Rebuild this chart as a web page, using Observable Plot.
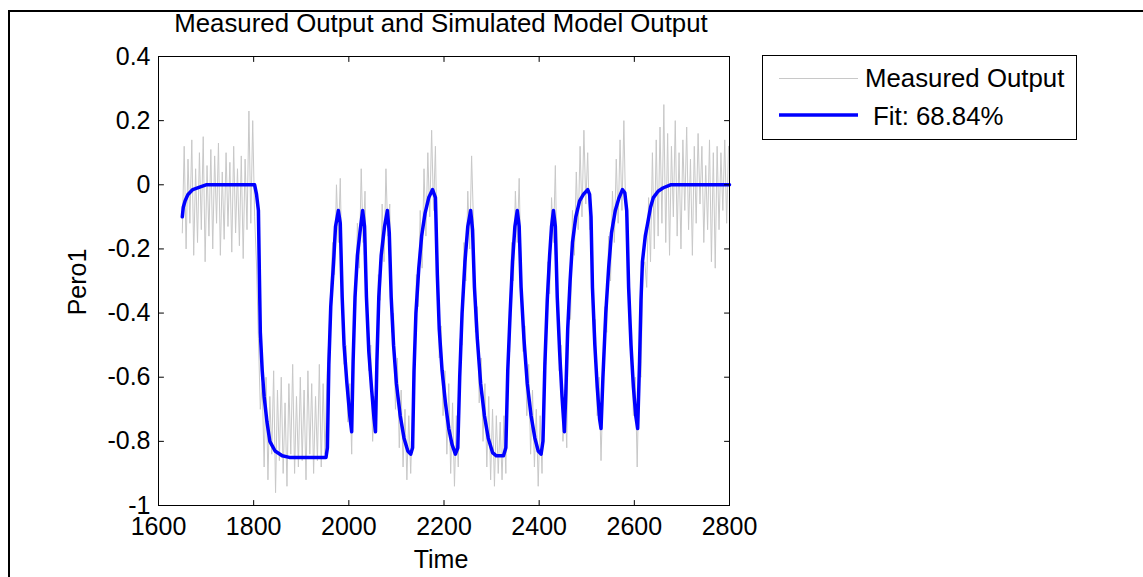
<!DOCTYPE html>
<html><head><meta charset="utf-8">
<script src="https://cdn.jsdelivr.net/npm/d3@7"></script>
<script src="https://cdn.jsdelivr.net/npm/@observablehq/plot@0.6"></script>
<style>
html,body{margin:0;padding:0;background:#fff;overflow:hidden;}
#wrap{position:relative;width:1143px;height:577px;overflow:hidden;font-family:"Liberation Sans",Arial,sans-serif;color:#000;}
#frame{position:absolute;left:8px;top:10px;width:2000px;height:2000px;border:2px solid #000;box-sizing:border-box;}
#chart{position:absolute;left:0;top:0;}
.t{position:absolute;white-space:nowrap;font-size:25px;line-height:25px;}
.big{font-size:25.8px;}
#legend{position:absolute;left:762px;top:55px;width:315px;height:85px;border:1px solid #000;box-sizing:border-box;background:#fff;}
</style></head><body>
<div id="wrap">
  <div id="frame"></div>
  <div id="chart"></div>
  <div class="t big" id="title" style="left:441px;top:11px;transform:translateX(-50%);">Measured Output and Simulated Model Output</div>
  <div class="t" id="xlabel" style="left:441px;top:547px;transform:translateX(-50%);">Time</div>
  <div class="t" id="ylabel" style="left:77px;top:282px;transform:translate(-50%,-50%) rotate(-90deg);">Pero1</div>
  <div id="legend">
    <svg width="313" height="83" style="position:absolute;left:0;top:0">
      <line x1="16" x2="95" y1="22.5" y2="22.5" stroke="#c8c8c8" stroke-width="1"/>
      <line x1="16" x2="95" y1="59" y2="59" stroke="#0000ff" stroke-width="3.5"/>
    </svg>
    <div class="t big" style="left:102px;top:10px;">Measured Output</div>
    <div class="t big" style="left:110px;top:48px;">Fit: 68.84%</div>
  </div>
</div>
<script>
// Axis ticks
const xTicks = [1600, 1800, 2000, 2200, 2400, 2600, 2800];
const yTicks = [-1, -0.8, -0.6, -0.4, -0.2, 0, 0.2, 0.4];

// Measured output: sampled every 4 time units starting at t = 1650
const measuredStart = 1650;
const measuredStep = 4;
const measuredValues = [
  /*1650*/ -0.15, 0.12, -0.20, 0.08, -0.12, 0.14, -0.22, 0.05, -0.18, 0.10,
  /*1690*/ -0.14, 0.15, -0.24, 0.06, -0.16, 0.11, -0.20, 0.09, -0.12, 0.13,
  /*1730*/ -0.22, 0.04, -0.17, 0.10, -0.13, 0.07, -0.21, 0.12, -0.15, 0.05,
  /*1770*/ -0.19, 0.09, -0.23, 0.08, -0.14, 0.23, -0.12, 0.20, -0.10, -0.25,
  /*1810*/ -0.48, -0.70, -0.62, -0.88, -0.60, -0.92, -0.66, -0.84, -0.58, -0.96,
  /*1850*/ -0.64, -0.86, -0.60, -0.90, -0.68, -0.94, -0.62, -0.84, -0.56, -0.90,
  /*1890*/ -0.66, -0.88, -0.60, -0.86, -0.64, -0.92, -0.58, -0.84, -0.62, -0.90,
  /*1930*/ -0.66, -0.86, -0.56, -0.88, -0.62, -0.84, -0.60, -0.48, -0.32, -0.18,
  /*1970*/ -0.28, 0.00, -0.18, 0.02, -0.30, -0.56, -0.50, -0.74, -0.62, -0.84,
  /*2010*/ -0.44, -0.40, -0.12, -0.26, 0.05, -0.18, -0.02, -0.36, -0.58, -0.50,
  /*2050*/ -0.80, -0.66, -0.74, -0.28, -0.36, -0.06, -0.24, 0.05, -0.16, -0.06,
  /*2090*/ -0.46, -0.40, -0.70, -0.54, -0.82, -0.64, -0.88, -0.70, -0.92, -0.72,
  /*2130*/ -0.90, -0.70, -0.62, -0.28, -0.38, -0.08, -0.26, 0.05, -0.16, 0.10,
  /*2170*/ -0.10, 0.17, -0.08, 0.12, -0.24, -0.54, -0.44, -0.72, -0.58, -0.84,
  /*2210*/ -0.62, -0.90, -0.68, -0.94, -0.72, -0.88, -0.48, -0.50, -0.18, -0.30,
  /*2250*/ -0.02, -0.20, 0.09, -0.12, -0.46, -0.38, -0.68, -0.54, -0.80, -0.62,
  /*2290*/ -0.88, -0.66, -0.92, -0.70, -0.94, -0.72, -0.90, -0.74, -0.92, -0.72,
  /*2330*/ -0.90, -0.50, -0.52, -0.18, -0.30, -0.02, -0.18, 0.02, -0.28, -0.52,
  /*2370*/ -0.44, -0.72, -0.56, -0.84, -0.64, -0.88, -0.70, -0.94, -0.72, -0.90,
  /*2410*/ -0.58, -0.56, -0.24, -0.34, -0.04, -0.18, 0.06, -0.30, -0.58, -0.50,
  /*2450*/ -0.80, -0.64, -0.82, -0.32, -0.42, -0.08, -0.22, 0.04, -0.14, 0.12,
  /*2490*/ -0.10, 0.17, -0.06, 0.10, -0.14, -0.12, -0.46, -0.42, -0.72, -0.60,
  /*2530*/ -0.86, -0.64, -0.38, -0.46, -0.16, -0.30, -0.02, -0.18, 0.08, -0.12,
  /*2570*/ 0.14, -0.08, 0.20, -0.10, -0.10, -0.48, -0.44, -0.72, -0.60, -0.88,
  /*2610*/ -0.58, -0.60, -0.26, -0.24, -0.32, -0.04, -0.24, 0.10, -0.20, 0.14,
  /*2650*/ -0.16, 0.18, -0.12, 0.25, -0.18, 0.16, -0.22, 0.12, -0.10, 0.20,
  /*2690*/ -0.16, 0.10, -0.20, 0.14, -0.08, 0.18, -0.14, 0.08, -0.22, 0.12,
  /*2730*/ -0.12, 0.16, -0.06, 0.12, -0.18, 0.06, -0.14, 0.14, -0.24, 0.10,
  /*2770*/ -0.26, 0.12, -0.14, 0.10, -0.08, 0.14, -0.12, 0.12
];

// Simulated model output (fit), vertices
const fitTime = [
  1650, 1652, 1656, 1662, 1672, 1685, 1700, 1802, 1806, 1810, 1812, 1814, 1818, 1822, 1828, 1834, 1845, 1860, 1875, 1952,
  1955, 1958, 1962, 1968, 1972, 1978, 1982, 1986, 1990, 1996, 2002, 2006, 2009, 2013, 2018, 2024, 2029, 2033, 2037, 2042,
  2048, 2053, 2056, 2059, 2063, 2068, 2075, 2081, 2085, 2089, 2094, 2100, 2108, 2116, 2124, 2130, 2134, 2137, 2141, 2147,
  2153, 2160, 2168, 2176, 2182, 2186, 2190, 2196, 2203, 2210, 2217, 2224, 2229, 2233, 2238, 2244, 2250, 2256, 2260, 2264,
  2270, 2277, 2285, 2293, 2302, 2310, 2325, 2330, 2334, 2339, 2344, 2349, 2354, 2358, 2362, 2368, 2375, 2383, 2391, 2398,
  2404, 2408, 2412, 2417, 2422, 2426, 2430, 2434, 2438, 2443, 2448, 2453, 2456, 2460, 2465, 2470, 2477, 2485, 2493, 2502,
  2506, 2509, 2512, 2517, 2522, 2527, 2530, 2534, 2540, 2546, 2552, 2560, 2568, 2575, 2580, 2584, 2588, 2593, 2598, 2603,
  2607, 2611, 2614, 2617, 2623, 2628, 2634, 2640, 2650, 2660, 2676, 2800
];
const fitValue = [
  -0.10, -0.07, -0.05, -0.03, -0.015, -0.008, 0, 0, -0.03, -0.08, -0.28, -0.46, -0.58, -0.66, -0.74, -0.80, -0.83, -0.845, -0.85, -0.85,
  -0.82, -0.56, -0.38, -0.24, -0.13, -0.08, -0.12, -0.35, -0.50, -0.62, -0.72, -0.77, -0.55, -0.35, -0.22, -0.14, -0.08, -0.13, -0.35, -0.52,
  -0.64, -0.73, -0.77, -0.55, -0.35, -0.22, -0.13, -0.08, -0.15, -0.35, -0.50, -0.62, -0.72, -0.79, -0.83, -0.84, -0.82, -0.58, -0.40, -0.26,
  -0.16, -0.09, -0.04, -0.015, -0.04, -0.28, -0.45, -0.58, -0.68, -0.76, -0.81, -0.84, -0.82, -0.60, -0.40, -0.24, -0.13, -0.08, -0.14, -0.32,
  -0.48, -0.62, -0.72, -0.79, -0.835, -0.845, -0.845, -0.82, -0.58, -0.40, -0.24, -0.13, -0.08, -0.13, -0.32, -0.48, -0.62, -0.72, -0.79, -0.83,
  -0.84, -0.80, -0.56, -0.36, -0.22, -0.13, -0.08, -0.13, -0.35, -0.52, -0.66, -0.77, -0.65, -0.45, -0.30, -0.18, -0.10, -0.05, -0.03, -0.015,
  -0.03, -0.10, -0.32, -0.50, -0.63, -0.73, -0.76, -0.60, -0.40, -0.26, -0.15, -0.08, -0.04, -0.015, -0.025, -0.08, -0.32, -0.50, -0.63, -0.72,
  -0.76, -0.55, -0.36, -0.24, -0.16, -0.12, -0.07, -0.04, -0.02, -0.01, 0, 0
];

const measured = measuredValues.map((v, i) => ({t: measuredStart + i * measuredStep, v}));
const fit = fitTime.map((t, i) => ({t, v: fitValue[i]}));

const fmtY = d => String(Math.round(d * 10) / 10);
const tickShape = {draw(ctx, l) { ctx.moveTo(0, 0); ctx.lineTo(0, -l); }};
const tickOpts = {length: 5, anchor: "start", shape: tickShape, stroke: "#000", strokeWidth: 1};

const chart = Plot.plot({
  width: 1143, height: 577,
  marginLeft: 158, marginRight: 414, marginTop: 56, marginBottom: 72,
  style: {fontFamily: "'Liberation Sans', Arial, sans-serif", fontSize: "25px", background: "transparent", color: "#000", overflow: "visible"},
  x: {domain: [1600, 2800]},
  y: {domain: [-1, 0.4]},
  marks: [
    Plot.line(measured, {x: "t", y: "v", stroke: "#c8c8c8", strokeWidth: 1}),
    Plot.line(fit, {x: "t", y: "v", stroke: "#0000ff", strokeWidth: 3.5, strokeLinejoin: "round"}),
    Plot.frame({stroke: "#000", strokeWidth: 1}),
    Plot.vector(xTicks, {x: d => d, y: -1, rotate: 0, ...tickOpts}),
    Plot.vector(xTicks, {x: d => d, y: 0.4, rotate: 180, ...tickOpts}),
    Plot.vector(yTicks, {x: 1600, y: d => d, rotate: 90, ...tickOpts}),
    Plot.vector(yTicks, {x: 2800, y: d => d, rotate: 270, ...tickOpts}),
    Plot.axisX(xTicks, {anchor: "bottom", tickSize: 0, tickPadding: 12, tickFormat: d => String(d), label: null, fill: "#000"}),
    Plot.axisY(yTicks, {anchor: "left", tickSize: 0, tickPadding: 8, tickFormat: fmtY, label: null, fill: "#000"})
  ]
});
document.getElementById("chart").appendChild(chart);
</script>
</body></html>
